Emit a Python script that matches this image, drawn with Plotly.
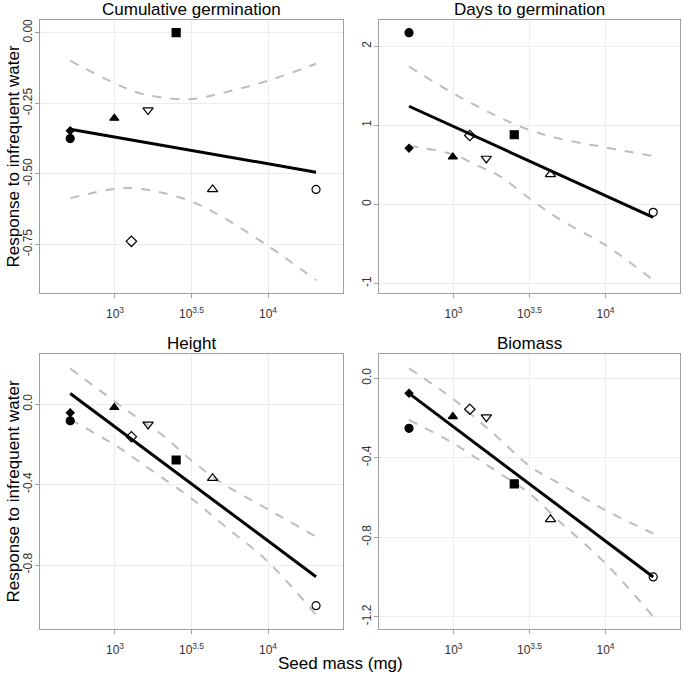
import plotly.graph_objects as go

# species order: filled circle, small filled diamond, filled triangle, open diamond,
# open down-triangle, filled square, open up-triangle, open circle
seed_mass_mg = [510, 510, 990, 1280, 1645, 2510, 4345, 20600]
symbols = ["circle", "diamond", "triangle-up", "diamond-open",
           "triangle-down-open", "square", "triangle-up-open", "circle-open"]
marker_sizes = [8, 6, 8, 8, 9, 8, 9, 8]

cum_germ = [-0.375, -0.347, -0.303, -0.739, -0.274, 0.0, -0.555, -0.555]
days_germ = [2.17, 0.71, 0.60, 0.87, 0.58, 0.88, 0.38, -0.10]
height = [-0.083, -0.043, -0.017, -0.162, -0.101, -0.278, -0.368, -1.002]
biomass = [-0.252, -0.076, -0.193, -0.156, -0.196, -0.532, -0.710, -1.000]

# fitted lines (endpoints)
fit_mass = [510, 20600]
cum_fit = [-0.342, -0.494]
days_fit = [1.24, -0.165]
height_fit = [0.053, -0.858]
biomass_fit = [-0.076, -1.000]

# confidence bands
ci_mass = [510, 1000, 1400, 2000, 3162, 5000, 10000, 20600]
cum_upper = [-0.099, -0.180, -0.212, -0.229, -0.235, -0.214, -0.170, -0.110]
cum_lower = [-0.586, -0.553, -0.552, -0.566, -0.598, -0.652, -0.755, -0.877]
days_upper = [1.74, 1.40, 1.25, 1.10, 0.94, 0.83, 0.72, 0.61]
days_lower = [0.74, 0.63, 0.50, 0.36, 0.075, -0.19, -0.516, -0.958]
height_upper = [0.177, 0.012, -0.068, -0.149, -0.280, -0.393, -0.523, -0.659]
height_lower = [-0.076, -0.204, -0.280, -0.362, -0.469, -0.595, -0.784, -1.048]
biomass_upper = [0.050, -0.106, -0.202, -0.304, -0.442, -0.531, -0.664, -0.781]
biomass_lower = [-0.210, -0.328, -0.400, -0.477, -0.580, -0.722, -0.932, -1.200]

x_tickvals = [1000, 3162.2777, 10000]
x_ticktext = ["10<sup>3</sup>", "10<sup>3.5</sup>", "10<sup>4</sup>"]

panels = [
    dict(title="Cumulative germination", y=cum_germ, fit=cum_fit, up=cum_upper, lo=cum_lower,
         yrange=[-0.922, 0.045], yticks=[0, -0.25, -0.5, -0.75],
         ylabels=["0.00", "-0.25", "-0.50", "-0.75"],
         xdom=[40 / 683, 343 / 683], ydom=[1 - 293 / 677, 1 - 20 / 677]),
    dict(title="Days to germination", y=days_germ, fit=days_fit, up=days_upper, lo=days_lower,
         yrange=[-1.12, 2.33], yticks=[-1, 0, 1, 2], ylabels=["-1", "0", "1", "2"],
         xdom=[379 / 683, 680 / 683], ydom=[1 - 293 / 677, 1 - 20 / 677]),
    dict(title="Height", y=height, fit=height_fit, up=height_upper, lo=height_lower,
         yrange=[-1.118, 0.249], yticks=[0, -0.4, -0.8], ylabels=["0.0", "-0.4", "-0.8"],
         xdom=[40 / 683, 343 / 683], ydom=[1 - 629 / 677, 1 - 354 / 677]),
    dict(title="Biomass", y=biomass, fit=biomass_fit, up=biomass_upper, lo=biomass_lower,
         yrange=[-1.262, 0.122], yticks=[0, -0.4, -0.8, -1.2],
         ylabels=["0.0", "-0.4", "-0.8", "-1.2"],
         xdom=[379 / 683, 680 / 683], ydom=[1 - 629 / 677, 1 - 354 / 677]),
]

FONT = "Liberation Sans, Arial, sans-serif"
fig = go.Figure()
annotations = []

for i, p in enumerate(panels):
    n = "" if i == 0 else str(i + 1)
    xa, ya = "x" + n, "y" + n
    for band in (p["up"], p["lo"]):
        fig.add_trace(go.Scatter(x=ci_mass, y=band, mode="lines", line_shape="spline",
                                 line=dict(color="#bdbdbd", width=2, dash="dash"),
                                 xaxis=xa, yaxis=ya, showlegend=False, hoverinfo="skip"))
    fig.add_trace(go.Scatter(x=fit_mass, y=p["fit"], mode="lines",
                             line=dict(color="black", width=3),
                             xaxis=xa, yaxis=ya, showlegend=False))
    fig.add_trace(go.Scatter(x=seed_mass_mg, y=p["y"], mode="markers",
                             marker=dict(symbol=symbols, size=marker_sizes, color="#000000",
                                         opacity=1,
                                         line=dict(color="#000000", width=1.2)),
                             xaxis=xa, yaxis=ya, showlegend=False))

    axis_common = dict(showline=True, mirror=True, linecolor="#a0a0a0", linewidth=1,
                       ticks="outside", tickcolor="#a0a0a0", ticklen=4,
                       showgrid=True, gridcolor="#ececec", gridwidth=1, zeroline=False,
                       automargin=False,
                       tickfont=dict(family=FONT, size=12, color="#333333"))
    fig.layout["xaxis" + n] = dict(axis_common, type="log", range=[2.51, 4.49],
                                   tickvals=x_tickvals, ticktext=x_ticktext,
                                   ticklabelstandoff=6,
                                   domain=p["xdom"], anchor=ya)
    fig.layout["yaxis" + n] = dict(axis_common, range=p["yrange"], tickvals=p["yticks"],
                                   ticktext=p["ylabels"], tickangle=-90,
                                   ticklabelstandoff=-2,
                                   domain=p["ydom"], anchor=xa)
    annotations.append(dict(text=p["title"], x=sum(p["xdom"]) / 2, y=p["ydom"][1],
                            xref="paper", yref="paper", xanchor="center", yanchor="bottom",
                            yshift=-1, showarrow=False,
                            font=dict(family=FONT, size=17, color="black")))
    if i in (0, 2):
        annotations.append(dict(text="Response to infrequent water", x=13 / 683,
                                y=sum(p["ydom"]) / 2, xref="paper", yref="paper",
                                xanchor="center", yanchor="middle",
                                textangle=-90, showarrow=False,
                                font=dict(family=FONT, size=17, color="black")))

annotations.append(dict(text="Seed mass (mg)", x=340 / 683, y=1 - 663 / 677,
                        xref="paper", yref="paper", xanchor="center", yanchor="middle",
                        showarrow=False,
                        font=dict(family=FONT, size=17, color="black")))

fig.update_layout(width=683, height=677, margin=dict(l=0, r=0, t=0, b=0, autoexpand=False),
                  plot_bgcolor="white", paper_bgcolor="white",
                  annotations=annotations, showlegend=False)

# the browser's default body margin would shift the fixed-size figure
fig.write_html("out.html", config={"displayModeBar": False},
               post_script="document.body.style.margin='0px';")
